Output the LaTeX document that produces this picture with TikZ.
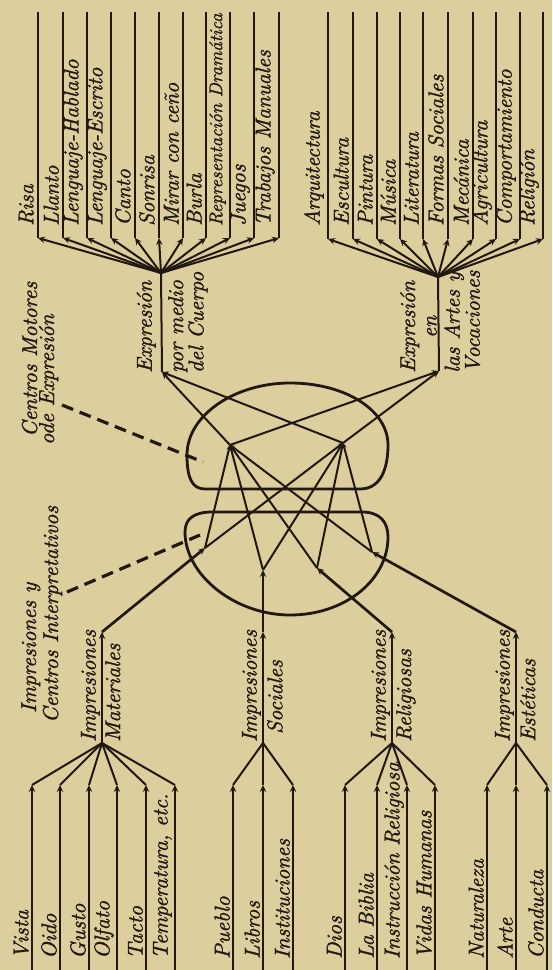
\documentclass[tikz,border=0pt]{standalone}
\usepackage{fontspec}
\newfontfamily\labfont{lmroman10-italic.otf}[FakeBold=1.3]
\usetikzlibrary{arrows.meta}
\definecolor{bg}{RGB}{221,206,158}
\definecolor{ink}{RGB}{33,24,18}
\begin{document}
\begin{tikzpicture}[x=1pt,y=-1pt,
  lbl/.style={rotate=90,inner sep=0pt,text=ink,font=\labfont\fontsize{21.5}{21.5}\selectfont},
  lbltwo/.style={rotate=90,inner sep=0pt,text=ink,font=\labfont\fontsize{21.5}{17}\selectfont},
  ln/.style={draw=ink,line width=2pt},
  tip/.style={-{Stealth[length=7pt,width=6.5pt,inset=2.5pt]}},
  smalltip/.style={-{Stealth[length=5pt,width=5pt,inset=2pt]}},
  arr/.style={ln,tip},
  sarr/.style={ln,smalltip},
  thk/.style={draw=ink,line width=2.7pt,tip},
  shp/.style={draw=ink,line width=2.8pt},
  dsh/.style={draw=ink,line width=3.2pt,dash pattern=on 12pt off 7pt},
]
\fill[bg] (0,0) rectangle (552,970);
\useasboundingbox (0,0) rectangle (552,970);

% ---------- output fan 1 ----------
\coordinate (C1) at (161,273);
\coordinate (E1) at (162,372);
\foreach \x/\t [count=\i] in {38/Risa,63/Llanto,87/Lenguaje-Hablado,111/Lenguaje-Escrito,135/Canto,159/Sonrisa,183/Mirar con ceño,206/Burla,230/{\fontsize{18.5}{18.5}\selectfont Representación Dramática},254/Juegos,279/Trabajos Manuales}{
  \coordinate (oa\i) at (\x,12);
  \coordinate (ca\i) at (\x,238);
  \draw[ln] (ca\i) -- (oa\i);
  \draw[arr] (C1) -- (ca\i);
  \node[lbl,anchor=south west] (la\i) at (\x-4,226) {\t};
}
\draw[ln] (E1) -- (C1);
\node[lbl,anchor=south west] (exa) at (156,373) {Expresión};
\node[lbltwo,anchor=north west,align=left] (exb) at (168,373) {por medio\\del Cuerpo};

% ---------- output fan 2 ----------
\coordinate (C2) at (438,277);
\coordinate (E2) at (439,371);
\foreach \x/\t [count=\i] in {328/Arquitectura,353/Escultura,377/Pintura,400/Música,423/Literatura,448/Formas Sociales,473/Mecánica,496/Agricultura,520/Comportamiento,543/Religión}{
  \coordinate (ob\i) at (\x,12);
  \coordinate (cb\i) at (\x,239);
  \draw[ln] (cb\i) -- (ob\i);
  \draw[arr] (C2) -- (cb\i);
  \node[lbl,anchor=south west] (lb\i) at (\x-4,226) {\t};
}
\draw[ln] (E2) -- (C2);
\node[lbl,anchor=south west,align=center] (exc) at (437,373) {Expresión\\en};
\node[lbltwo,anchor=north west,align=left] (exd) at (444,373) {las Artes y\\Vocaciones};

% ---------- centre shapes ----------
\draw[shp] (205,489) -- (360,489) .. controls (380,489) and (388,470) .. (388,445)
  .. controls (388,410) and (345,383) .. (290,383) .. controls (235,383) and (187,415) .. (187,455)
  .. controls (187,478) and (192,489) .. (205,489) -- cycle;
\draw[shp] (212,512) -- (362,512) .. controls (380,512) and (388,522) .. (388,537)
  .. controls (388,580) and (345,615) .. (290,615) .. controls (235,615) and (185,575) .. (185,532)
  .. controls (185,518) and (195,512) .. (212,512) -- cycle;

\coordinate (U1) at (230,445);
\coordinate (U2) at (343,443);
\coordinate (L1) at (205,548);
\coordinate (L2) at (263,570);
\coordinate (L3) at (317,568);
\coordinate (L4) at (372,552);

\foreach \l in {L1,L2,L3,L4}{
  \draw[sarr] (\l) -- (U1);
  \draw[sarr] (\l) -- (U2);
}
\foreach \u in {U1,U2}{
  \draw[arr] (\u) -- (E1);
  \draw[arr] (\u) -- (E2);
}

% ---------- input group M ----------
\coordinate (gM) at (102,743);
\coordinate (tM) at (102,632);
\foreach \x/\t [count=\i] in {32/Vista,60/Oido,89/Gusto,117/Olfato,146/Tacto,175/{Temperatura, etc.}}{
  \coordinate (bm\i) at (\x,972);
  \coordinate (km\i) at (\x,785);
  \draw[arr] (bm\i) -- (km\i);
  \draw[ln] (km\i) -- (gM);
  \node[lbl,anchor=south west] (lm\i) at (\x-3,959) {\t};
}
\draw[arr] (gM) -- (tM);
\node[lbl,anchor=south west] (imM) at (100,742) {Impresiones};
\node[lbl,anchor=north west] (swM) at (105,742) {Materiales};
\draw[thk] (tM) -- (L1);

% ---------- input group S ----------
\coordinate (gS) at (263,743);
\coordinate (tS) at (263,632);
\foreach \x/\t [count=\i] in {233/Pueblo,263/Libros,293/Instituciones}{
  \coordinate (bs\i) at (\x,972);
  \coordinate (ks\i) at (\x,785);
  \draw[arr] (bs\i) -- (ks\i);
  \draw[ln] (ks\i) -- (gS);
  \node[lbl,anchor=south west] (ls\i) at (\x-3,959) {\t};
}
\draw[arr] (gS) -- (tS);
\node[lbl,anchor=south west] (imS) at (261,742) {Impresiones};
\node[lbl,anchor=north west] (swS) at (267,734) {Sociales};
\draw[arr] (tS) -- (L2);

% ---------- input group R ----------
\coordinate (gR) at (392,743);
\coordinate (tR) at (392,632);
\foreach \x/\t [count=\i] in {345/Dios,377/La Biblia,407/Instrucción Religiosa,435/Vidas Humanas}{
  \coordinate (br\i) at (\x,972);
  \coordinate (kr\i) at (\x,785);
  \draw[arr] (br\i) -- (kr\i);
  \draw[ln] (kr\i) -- (gR);
  \node[lbl,anchor=south west] (lr\i) at (\x-3,959) {\t};
}
\draw[arr] (gR) -- (tR);
\node[lbl,anchor=south west] (imR) at (390,742) {Impresiones};
\node[lbl,anchor=north west] (swR) at (396,742) {Religiosas};
\draw[thk] (tR) -- (L3);

% ---------- input group E ----------
\coordinate (gE) at (516,743);
\coordinate (tE) at (516,632);
\foreach \x/\t [count=\i] in {487/Naturaleza,516/Arte,547/Conducta}{
  \coordinate (be\i) at (\x,972);
  \coordinate (ke\i) at (\x,785);
  \draw[arr] (be\i) -- (ke\i);
  \draw[ln] (ke\i) -- (gE);
  \node[lbl,anchor=south west] (le\i) at (\x-3,959) {\t};
}
\draw[arr] (gE) -- (tE);
\node[lbl,anchor=south west] (imE) at (514,742) {Impresiones};
\node[lbl,anchor=north west] (swE) at (520,742) {Estéticas};
\draw[thk] (tE) -- (L4);

% ---------- centre labels and dashed pointers ----------
\node[lbl,anchor=base west] (cm1) at (37,437) {Centros Motores};
\node[lbl,anchor=base west] (cm2) at (54,445) {ode Expresión};
\node[lbl,anchor=base west] (ci1) at (36,713) {Impresiones y};
\node[lbl,anchor=base west] (ci2) at (58,723) {Centros Interpretativos};
\coordinate (dA1) at (62,405);
\coordinate (dA2) at (203,462);
\coordinate (dB1) at (67,592);
\coordinate (dB2) at (200,535);
\draw[dsh] (dA1) -- (dA2);
\draw[dsh] (dB1) -- (dB2);
\end{tikzpicture}
\end{document}
